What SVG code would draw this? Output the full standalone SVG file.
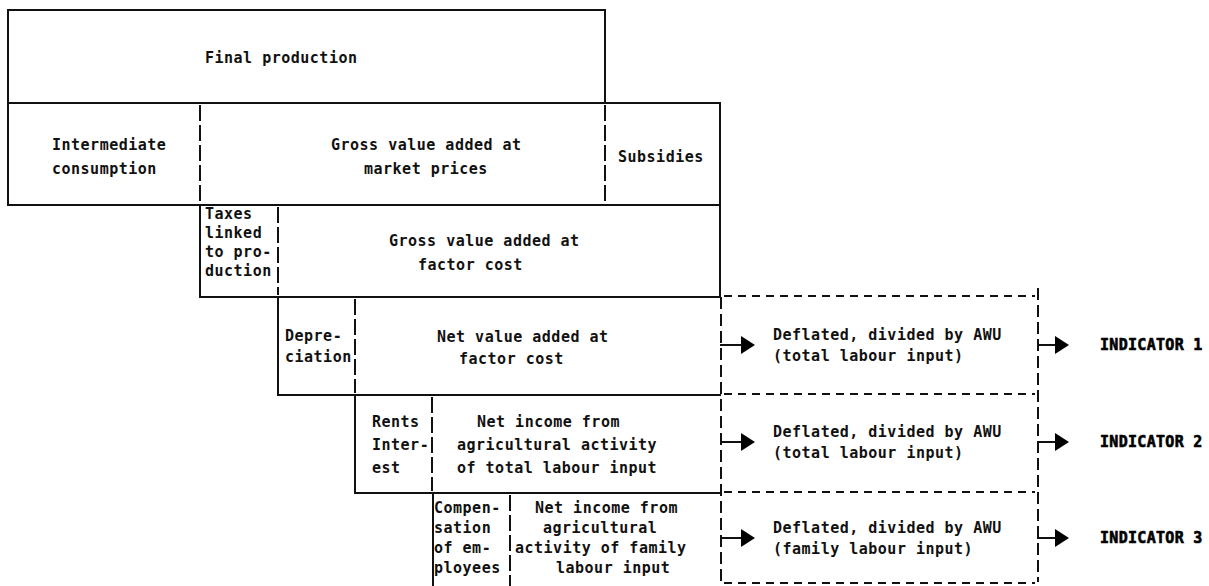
<svg xmlns="http://www.w3.org/2000/svg" width="1209" height="586" viewBox="0 0 1209 586">
<defs>
<style>
.t{font-family:"DejaVu Sans Mono","Liberation Mono",monospace;font-size:15px;font-weight:bold;letter-spacing:0.5px;fill:#111}
.ind{font-family:"DejaVu Sans Mono","Liberation Mono",monospace;font-size:15px;font-weight:bold;letter-spacing:0.3px;fill:#000;stroke:#000;stroke-width:0.6}
.s{fill:none;stroke:#111;stroke-width:2;stroke-linecap:square}
.div{fill:none;stroke:#111;stroke-width:2;stroke-dasharray:16 4}
.dh{fill:none;stroke:#111;stroke-width:2;stroke-dasharray:8 6}
.dv{fill:none;stroke:#111;stroke-width:2;stroke-dasharray:12 5}
.ah{fill:#000}
</style>
</defs>
<rect width="1209" height="586" fill="#fff"/>

<g id="final-production">
<path class="s" d="M8,10 H605 V103 M8,10 V103"/>
<text class="t" x="205" y="63">Final production</text>
</g>

<g id="market-prices-row">
<path class="s" d="M8,103 H720 V205 H8 Z"/>
<line class="div" x1="200" y1="105" x2="200" y2="203"/>
<line class="div" x1="605" y1="105" x2="605" y2="203"/>
<text class="t" x="52" y="150">Intermediate</text>
<text class="t" x="52" y="174">consumption</text>
<text class="t" x="331" y="150">Gross value added at</text>
<text class="t" x="364" y="174">market prices</text>
<text class="t" x="618" y="162">Subsidies</text>
</g>

<g id="factor-cost-row">
<path class="s" d="M200,205 V297 H720 V205"/>
<line class="div" x1="278" y1="207" x2="278" y2="295"/>
<text class="t" x="205" y="219">Taxes</text>
<text class="t" x="205" y="238">linked</text>
<text class="t" x="205" y="257">to pro-</text>
<text class="t" x="205" y="276">duction</text>
<text class="t" x="389" y="246">Gross value added at</text>
<text class="t" x="418" y="270">factor cost</text>
</g>

<g id="net-value-row">
<path class="s" d="M278,297 V395 H720"/>
<line class="div" x1="355" y1="299" x2="355" y2="393"/>
<text class="t" x="285" y="341">Depre-</text>
<text class="t" x="285" y="362">ciation</text>
<text class="t" x="437" y="342">Net value added at</text>
<text class="t" x="459" y="364">factor cost</text>
</g>

<g id="net-income-total-row">
<path class="s" d="M355,395 V493 H720"/>
<line class="div" x1="432" y1="397" x2="432" y2="491"/>
<text class="t" x="372" y="427">Rents</text>
<text class="t" x="372" y="450">Inter-</text>
<text class="t" x="372" y="473">est</text>
<text class="t" x="477" y="427">Net income from</text>
<text class="t" x="457" y="450">agricultural activity</text>
<text class="t" x="457" y="473">of total labour input</text>
</g>

<g id="net-income-family-row">
<path class="s" d="M433,493 V586"/>
<line class="div" x1="510" y1="495" x2="510" y2="586"/>
<text class="t" x="434" y="513">Compen-</text>
<text class="t" x="434" y="533">sation</text>
<text class="t" x="434" y="553">of em-</text>
<text class="t" x="434" y="573">ployees</text>
<text class="t" x="535" y="513">Net income from</text>
<text class="t" x="543" y="533">agricultural</text>
<text class="t" x="515" y="553">activity of family</text>
<text class="t" x="556" y="573">labour input</text>
</g>

<g id="deflation-boxes">
<line class="dh" x1="724" y1="296" x2="1035" y2="296"/>
<line class="dh" x1="724" y1="394" x2="1035" y2="394"/>
<line class="dh" x1="724" y1="492" x2="1035" y2="492"/>
<line class="dh" x1="724" y1="583" x2="1035" y2="583"/>
<line class="dv" x1="721" y1="297" x2="721" y2="586"/>
<line class="dv" x1="1038" y1="288" x2="1038" y2="582"/>
<text class="t" x="773" y="340">Deflated, divided by AWU</text>
<text class="t" x="773" y="361">(total labour input)</text>
<text class="t" x="773" y="437">Deflated, divided by AWU</text>
<text class="t" x="773" y="458">(total labour input)</text>
<text class="t" x="773" y="533">Deflated, divided by AWU</text>
<text class="t" x="773" y="554">(family labour input)</text>
</g>

<g id="indicators">
<text class="ind" x="1100" y="350">INDICATOR 1</text>
<text class="ind" x="1100" y="447">INDICATOR 2</text>
<text class="ind" x="1100" y="543">INDICATOR 3</text>
</g>

<g id="connectors">
<line class="s" x1="721" y1="345" x2="742" y2="345"/>
<polygon class="ah" points="741,336 755,345 741,354"/>
<line class="s" x1="721" y1="442" x2="742" y2="442"/>
<polygon class="ah" points="741,433 755,442 741,451"/>
<line class="s" x1="721" y1="538" x2="742" y2="538"/>
<polygon class="ah" points="741,529 755,538 741,547"/>
<line class="s" x1="1038" y1="345" x2="1056" y2="345"/>
<polygon class="ah" points="1055,336 1069,345 1055,354"/>
<line class="s" x1="1038" y1="442" x2="1056" y2="442"/>
<polygon class="ah" points="1055,433 1069,442 1055,451"/>
<line class="s" x1="1038" y1="538" x2="1056" y2="538"/>
<polygon class="ah" points="1055,529 1069,538 1055,547"/>
</g>
</svg>
